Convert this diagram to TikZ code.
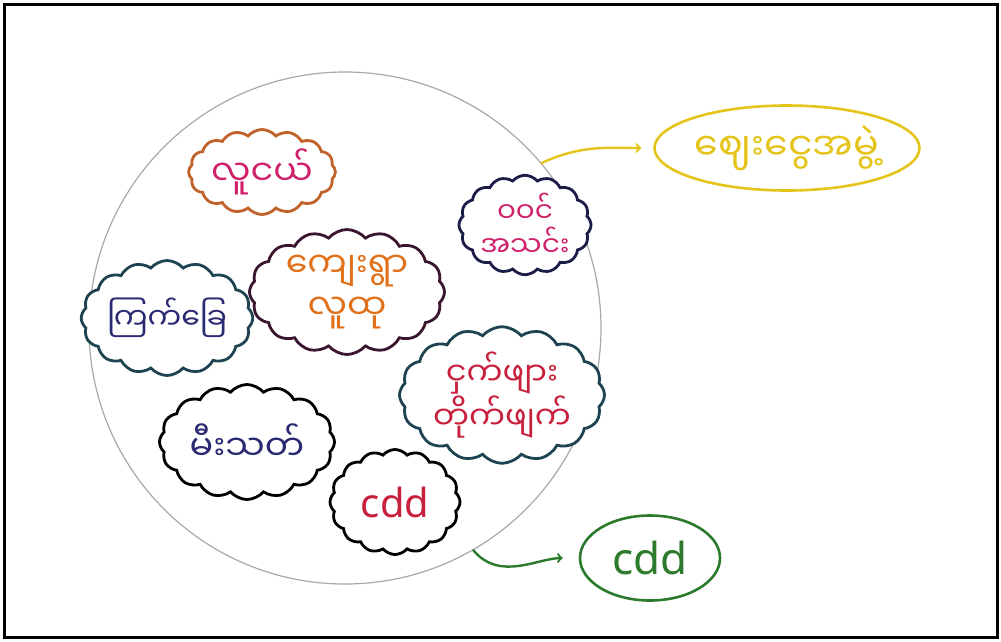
\documentclass[tikz,border=0pt]{standalone}
\usepackage{fontspec}
\setmainfont{Noto Sans}
\newfontfamily\mmfont[Script=Myanmar]{Noto Sans Myanmar UI}
\usetikzlibrary{shapes.symbols,shapes.geometric}

\definecolor{pencil}{HTML}{A8A8A8}
\definecolor{rust}{HTML}{C0622A}
\definecolor{berry}{HTML}{D0206A}
\definecolor{ink}{HTML}{1C1C48}
\definecolor{plum}{HTML}{3A1530}
\definecolor{tealink}{HTML}{1E4452}
\definecolor{tang}{HTML}{E0701A}
\definecolor{navy}{HTML}{2A2A72}
\definecolor{crimson}{HTML}{C8203C}
\definecolor{mustard}{HTML}{E4C418}
\definecolor{leaf}{HTML}{2C7A2C}

\begin{document}
\begin{tikzpicture}[x=1pt,y=-1pt
  ,->,>=to
  ,line cap=round,
  semithick]
  \tikzstyle{puff}=[cloud,cloud puffs=16,cloud puff arc=100,cloud ignores aspect,
    draw,fill=white,line width=2.8pt,align=center,inner sep=0pt,
    font=\mmfont\fontsize{35}{42}\selectfont]
  \tikzstyle{tag}=[ellipse,draw,line width=2.6pt,inner sep=0pt,
    font=\mmfont\fontsize{38}{44}\selectfont]

  \useasboundingbox (0,0) rectangle (1001,641);
  \draw[-,line width=3pt] (4,4) rectangle (997,637);

  \node[circle,draw=pencil,line width=1.2pt,minimum size=512pt] (group) at (345,328) {};

  \node[puff,draw=rust,text=berry,minimum width=135pt,minimum height=85pt]
    (youth) at (262,172) {လူငယ်};
  \node[puff,draw=ink,text=berry,minimum width=132pt,minimum height=92pt,
    font=\mmfont\fontsize{28}{34}\selectfont]
    (club) at (525,225) {ဝဝင်\\အသင်း};
  \node[puff,draw=plum,text=tang,minimum width=195pt,minimum height=125pt]
    (village) at (347,292) {ကျေးရွာ\\လူထု};
  \node[puff,draw=tealink,text=navy,minimum width=165pt,minimum height=115pt,
    font=\mmfont\fontsize{30}{36}\selectfont]
    (redcross) at (167,318) {ကြက်ခြေ};
  \node[puff,draw=tealink,text=crimson,minimum width=205pt,minimum height=120pt,
    font=\mmfont\fontsize{32}{40}\selectfont]
    (malaria) at (502,395) {ငှက်ဖျား\\တိုက်ဖျက်};
  \node[puff,draw=black,text=navy,minimum width=175pt,minimum height=115pt]
    (fire) at (247,442) {မီးသတ်};
  \node[puff,draw=black,text=crimson,minimum width=130pt,minimum height=105pt,
    font=\fontsize{40}{46}\selectfont]
    (cddin) at (395,502) {cdd};

  \node[tag,draw=mustard,text=mustard,minimum width=265pt,minimum height=85pt]
    (market) at (787,148) {ဈေးငွေအမွဲ့};
  \node[tag,draw=leaf,text=leaf,minimum width=140pt,minimum height=85pt,
    font=\fontsize{44}{50}\selectfont]
    (cddout) at (650,558) {cdd};

  \path[line width=2.4pt]
  (group.40)  edge [draw=mustard,out=25,in=180,shorten >=12pt]  (market.west)
  (group.-60) edge [draw=leaf,out=-50,in=180,shorten >=16pt]    (cddout.west)
  ;

\end{tikzpicture}
\end{document}
